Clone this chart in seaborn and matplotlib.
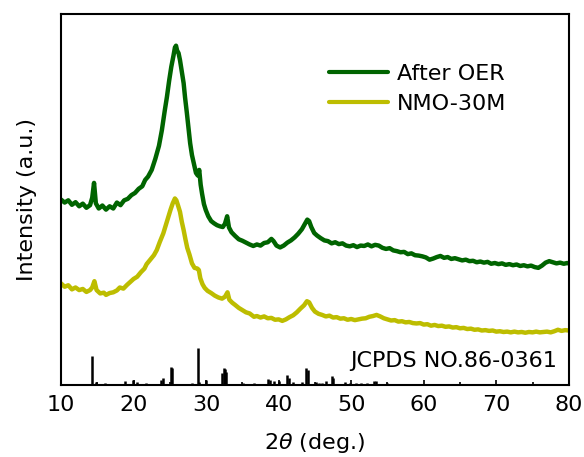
import matplotlib
matplotlib.use("Agg")
import matplotlib.pyplot as plt
from matplotlib.ticker import MultipleLocator
import numpy as np
import pandas as pd
import seaborn as sns

# --- After OER: 2theta (deg) and offset intensity (a.u.)
after_x = [10.0, 10.5, 11.0, 11.5, 12.0, 12.5, 13.0, 13.5, 14.0, 14.3, 14.55, 14.8,
           15.2, 15.7, 16.2, 16.7, 17.2, 17.7, 18.2, 18.7, 19.2, 19.7, 20.2, 20.7,
           21.2, 21.6, 22.0, 22.5, 23.0, 23.5, 23.9, 24.3, 24.6, 24.9, 25.2, 25.5,
           25.7, 25.85, 26.0, 26.2, 26.4, 26.65, 26.9, 27.1, 27.35, 27.6, 27.8, 28.05,
           28.3, 28.6, 28.85, 29.05, 29.25, 29.45, 29.7, 29.95, 30.3, 30.7, 31.1, 31.5,
           31.9, 32.3, 32.6, 32.9, 33.15, 33.5, 34.0, 34.5, 35.0, 35.5, 36.0, 36.5,
           37.0, 37.5, 38.0, 38.5, 39.0, 39.3, 39.7, 40.2, 40.7, 41.2, 41.7, 42.2,
           42.7, 43.2, 43.6, 43.95, 44.2, 44.5, 44.9, 45.3, 45.8, 46.3, 46.8, 47.3,
           47.8, 48.3, 48.8, 49.3, 49.8, 50.3, 50.8, 51.3, 51.8, 52.3, 52.8, 53.3,
           53.8, 54.3, 54.8, 55.3, 55.8, 56.3, 56.8, 57.3, 57.8, 58.3, 58.8, 59.3,
           59.8, 60.3, 60.8, 61.3, 61.8, 62.3, 62.8, 63.3, 63.8, 64.3, 64.8, 65.3,
           65.8, 66.3, 66.8, 67.3, 67.8, 68.3, 68.8, 69.3, 69.8, 70.3, 70.8, 71.3,
           71.8, 72.3, 72.8, 73.3, 73.8, 74.3, 74.8, 75.3, 75.8, 76.3, 76.8, 77.3,
           77.8, 78.3, 78.8, 79.3, 79.8, 80.0]
after_y = [50.0, 49.2, 49.8, 48.6, 49.3, 48.2, 48.9, 47.8, 48.5, 50.5, 54.5, 49.0,
           47.6, 48.4, 47.3, 48.2, 47.6, 49.2, 48.5, 49.8, 50.2, 51.2, 51.8, 52.9,
           53.6, 55.3, 56.2, 58.0, 61.0, 64.5, 68.7, 74.0, 77.7, 82.0, 85.8, 88.8,
           91.0, 91.5, 90.2, 89.5, 87.6, 84.5, 81.4, 77.5, 73.3, 68.8, 65.2, 62.0,
           59.8, 57.2, 56.5, 58.0, 54.0, 51.5, 48.8, 47.2, 45.5, 44.2, 43.6, 43.1,
           42.8, 42.6, 43.5, 45.5, 42.5, 41.2, 40.2, 39.3, 38.9, 38.4, 37.9, 37.5,
           37.9, 37.6, 38.3, 38.5, 39.4, 38.8, 37.6, 37.1, 37.6, 38.4, 39.0, 39.8,
           40.8, 42.0, 43.4, 44.6, 44.2, 42.6, 41.0, 40.3, 39.6, 39.0, 38.8, 38.2,
           38.5, 38.0, 38.2, 37.6, 37.4, 37.7, 37.2, 37.6, 37.5, 37.9, 37.4, 37.8,
           37.6, 37.0, 36.7, 36.9, 36.3, 36.1, 35.8, 35.9, 35.3, 35.5, 35.0, 34.9,
           34.7, 34.4, 33.8, 34.1, 34.5, 34.8, 34.3, 34.5, 34.0, 34.2, 33.9, 33.6,
           33.8, 33.4, 33.5, 33.1, 33.3, 33.0, 33.2, 32.7, 32.9, 32.6, 32.8, 32.4,
           32.6, 32.3, 32.5, 32.1, 32.3, 32.0, 32.2, 31.8, 31.6, 32.2, 33.0, 33.4,
           33.1, 32.8, 33.0, 32.7, 32.9, 32.8]

# --- NMO-30M
nmo_x = [10.0, 10.5, 11.0, 11.5, 12.0, 12.5, 13.0, 13.5, 14.0, 14.3, 14.6, 14.9,
         15.4, 15.9, 16.2, 16.7, 17.2, 17.7, 18.1, 18.6, 19.1, 19.6, 20.0, 20.5,
         21.0, 21.5, 21.8, 22.3, 22.8, 23.2, 23.6, 24.1, 24.5, 24.8, 25.1, 25.4,
         25.7, 25.9, 26.1, 26.4, 26.65, 26.9, 27.15, 27.4, 27.7, 28.05, 28.4, 28.8,
         29.0, 29.2, 29.5, 29.8, 30.2, 30.7, 31.2, 31.7, 32.2, 32.6, 32.95, 33.2,
         33.6, 34.0, 34.5, 35.0, 35.5, 36.0, 36.6, 37.0, 37.5, 38.0, 38.5, 39.0,
         39.5, 40.0, 40.5, 41.0, 41.5, 42.0, 42.5, 43.0, 43.5, 43.9, 44.2, 44.6,
         45.0, 45.5, 46.0, 46.5, 47.0, 47.5, 48.0, 48.5, 49.0, 49.5, 50.0, 50.5,
         51.0, 51.5, 52.0, 52.5, 53.0, 53.5, 54.0, 54.5, 55.0, 55.5, 56.0, 56.5,
         57.0, 57.5, 58.0, 58.5, 59.0, 59.5, 60.0, 60.5, 61.0, 61.5, 62.0, 62.5,
         63.0, 63.5, 64.0, 64.5, 65.0, 65.5, 66.0, 66.5, 67.0, 67.5, 68.0, 68.5,
         69.0, 69.5, 70.0, 70.5, 71.0, 71.5, 72.0, 72.5, 73.0, 73.5, 74.0, 74.5,
         75.0, 75.5, 76.0, 76.5, 77.0, 77.5, 78.0, 78.5, 79.0, 79.5, 80.0]
nmo_y = [27.4, 26.5, 26.9, 25.8, 26.3, 25.6, 25.9, 25.1, 25.6, 26.3, 28.0, 25.6,
         24.7, 24.9, 24.3, 24.8, 25.0, 25.5, 26.3, 26.0, 27.0, 27.9, 28.6, 29.2,
         30.4, 31.4, 32.6, 33.8, 35.0, 36.4, 38.5, 40.9, 43.5, 45.4, 47.3, 49.0,
         50.3, 49.8, 48.6, 46.7, 44.0, 41.8, 39.3, 37.0, 35.2, 32.8, 31.6, 31.4,
         31.0, 28.8, 27.2, 26.2, 25.4, 24.8, 24.1, 23.6, 23.3, 23.8, 25.0, 23.0,
         22.2, 21.6, 20.8, 20.2, 19.6, 19.3, 18.4, 18.6, 18.2, 18.5, 18.0, 18.1,
         17.6, 17.7, 17.3, 17.7, 18.3, 18.8, 19.6, 20.6, 21.5, 22.6, 22.3, 20.8,
         19.8, 19.2, 18.9, 18.5, 18.7, 18.2, 18.3, 17.9, 18.0, 17.6, 17.8, 17.5,
         17.7, 17.9, 18.0, 18.4, 18.6, 18.9, 18.5, 18.0, 17.7, 17.4, 17.5, 17.1,
         17.2, 16.9, 17.0, 16.7, 16.6, 16.7, 16.3, 16.4, 16.0, 16.2, 15.9, 16.0,
         15.7, 15.8, 15.5, 15.6, 15.3, 15.4, 15.1, 15.2, 14.9, 15.0, 14.7, 14.8,
         14.6, 14.7, 14.4, 14.5, 14.3, 14.4, 14.2, 14.4, 14.2, 14.3, 14.1, 14.3,
         14.2, 14.4, 14.2, 14.3, 14.4, 14.2, 14.5, 14.9, 14.6, 14.8, 14.7]

# --- Reference pattern JCPDS 86-0361: positions and relative intensities
ref_pos = [14.24, 14.8, 16.0, 18.84, 19.99, 20.45, 21.7, 23.8, 24.0, 25.2, 25.3,
           28.1, 28.83, 29.0, 30.0, 32.2, 32.4, 32.55, 32.7, 35.1, 36.6, 38.5,
           38.8, 39.3, 40.0, 41.2, 41.4, 42.0, 43.15, 43.8, 44.0, 45.1, 45.6,
           46.0, 46.56, 47.3, 47.5, 49.2, 49.8, 50.6, 51.3, 52.2, 53.1, 53.4, 55.0]
ref_int = [79, 8, 5, 11, 14, 8, 5, 14, 19, 49, 46,
           5, 100, 8, 14, 32, 46, 43, 35, 5, 5, 16,
           14, 11, 11, 27, 19, 8, 8, 46, 41, 8, 5,
           5, 11, 24, 19, 8, 5, 5, 5, 5, 11, 11, 5]

series_names = ["After OER", "NMO-30M"]
series_colors = ["#006400", "#BDBD00"]
ref_label = "JCPDS NO.86-0361"
x_ticks = [10, 20, 30, 40, 50, 60, 70, 80]

sns.set_style("white")
plt.rcParams["font.family"] = ["DejaVu Sans"]
plt.rcParams["mathtext.fontset"] = "dejavusans"
plt.rcParams["text.color"] = "black"
plt.rcParams["axes.labelcolor"] = "black"
plt.rcParams["xtick.color"] = "black"

df = pd.concat([
    pd.DataFrame({"two_theta": after_x, "intensity": after_y, "sample": series_names[0]}),
    pd.DataFrame({"two_theta": nmo_x, "intensity": nmo_y, "sample": series_names[1]}),
], ignore_index=True)

fig = plt.figure(figsize=(5.84, 4.57), dpi=100)
ax = fig.add_axes([0.1045, 0.1575, 0.8695, 0.8115])

sns.lineplot(data=df, x="two_theta", y="intensity", hue="sample",
             palette=dict(zip(series_names, series_colors)),
             estimator=None, sort=False, linewidth=3.2, ax=ax)

# reference stick pattern (100 % -> 10 intensity units)
ax.vlines(ref_pos, 0, np.array(ref_int) * 0.1, color="black", linewidth=1.8)
ax.text(0.976, 0.049, ref_label, transform=ax.transAxes, ha="right",
        va="baseline", fontsize=16, color="black")

ax.set_xlim(10, 80)
ax.set_ylim(0, 100)
ax.set_xticks(x_ticks)
ax.xaxis.set_minor_locator(MultipleLocator(5))
ax.set_yticks([])
ax.tick_params(axis="x", which="major", direction="in", length=3.6, width=1.2,
               labelsize=16, pad=7.5, bottom=True, top=False, colors="black")
ax.tick_params(axis="x", which="minor", direction="in", length=2.0, width=1.2,
               bottom=True, top=False, colors="black")
for sp in ax.spines.values():
    sp.set_linewidth(1.5)
    sp.set_color("black")

ax.set_xlabel(r"2$\theta$ (deg.)", fontsize=16, labelpad=11, color="black")
ax.set_ylabel("Intensity (a.u.)", fontsize=16, labelpad=17, color="black")

leg = ax.legend(loc="upper left", bbox_to_anchor=(0.528, 0.866), frameon=False,
                fontsize=16, handlelength=2.65, handletextpad=0.4,
                labelspacing=0.44, borderpad=0, borderaxespad=0)
for text in leg.get_texts():
    text.set_color("black")
for line in leg.get_lines():
    line.set_linewidth(3.0)

fig.savefig("out.png", dpi=100)
